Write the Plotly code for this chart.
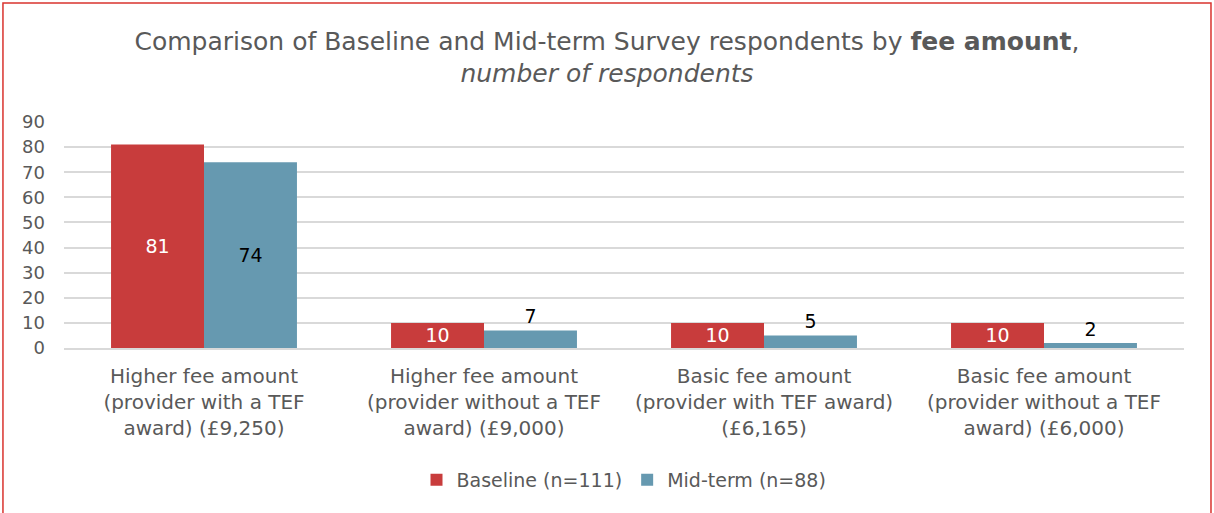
import plotly.graph_objects as go

categories = [
    "Higher fee amount<br>(provider with a TEF<br>award) (£9,250)",
    "Higher fee amount<br>(provider without a TEF<br>award) (£9,000)",
    "Basic fee amount<br>(provider with TEF award)<br>(£6,165)",
    "Basic fee amount<br>(provider without a TEF<br>award) (£6,000)",
]
baseline = [81, 10, 10, 10]
midterm = [74, 7, 5, 2]
tick_vals = [0, 10, 20, 30, 40, 50, 60, 70, 80, 90]

RED = "#C83C3C"
BLUE = "#6699B0"
GREY = "#595959"
FONT = "DejaVu Sans, sans-serif"

fig = go.Figure()

fig.add_trace(go.Bar(
    x=categories,
    y=baseline,
    name="Baseline (n=111)",
    marker=dict(color=RED, line=dict(width=0)),
    text=baseline,
    textposition="inside",
    insidetextanchor="middle",
    textangle=0,
    constraintext="none",
    textfont=dict(color="white", size=19, family=FONT),
))

fig.add_trace(go.Bar(
    x=categories,
    y=midterm,
    name="Mid-term (n=88)",
    marker=dict(color=BLUE, line=dict(width=0)),
    text=midterm,
    textposition=["inside", "outside", "outside", "outside"],
    insidetextanchor="middle",
    textangle=0,
    constraintext="none",
    textfont=dict(color="black", size=19, family=FONT),
    cliponaxis=False,
))

# red frame round the figure
fig.add_shape(
    type="rect", xref="paper", yref="paper",
    x0=-0.0545, x1=1.0241, y0=-0.8, y1=1.5265,
    line=dict(color="#D9332E", width=1.5),
    fillcolor="rgba(0,0,0,0)",
    layer="below",
)

fig.update_layout(
    width=1214,
    height=513,
    paper_bgcolor="white",
    plot_bgcolor="white",
    font=dict(family=FONT, color=GREY, size=18),
    title=dict(
        text="Comparison of Baseline and Mid-term Survey respondents by <b>fee amount</b>,"
             "<br><i>number of respondents</i>",
        x=0.5,
        xanchor="center",
        y=0.903,
        yanchor="top",
        font=dict(size=25, color=GREY, family=FONT),
    ),
    barmode="group",
    bargap=0.336,
    bargroupgap=0,
    margin=dict(l=64, r=30, t=122, b=165, autoexpand=False),
    legend=dict(
        orientation="h",
        x=0.5,
        xanchor="center",
        y=-0.5,
        yanchor="top",
        font=dict(size=19, color=GREY),
        itemwidth=30,
    ),
    showlegend=True,
)

fig.update_yaxes(
    range=[0, 90],
    tickvals=tick_vals,
    showgrid=True,
    gridcolor="#D9D9D9",
    gridwidth=2,
    zeroline=False,
    showline=False,
    ticks="",
    tickfont=dict(size=18, color=GREY),
    ticklabelstandoff=18,
    automargin=False,
)

fig.update_xaxes(
    showline=True,
    linecolor="#D9D9D9",
    linewidth=2,
    ticks="",
    tickfont=dict(size=20, color=GREY),
    tickangle=0,
    ticklabelstandoff=9,
    automargin=False,
)

fig.write_html(
    "out.html",
    config={"displayModeBar": False},
    post_script="document.body.style.margin='0';",
)
